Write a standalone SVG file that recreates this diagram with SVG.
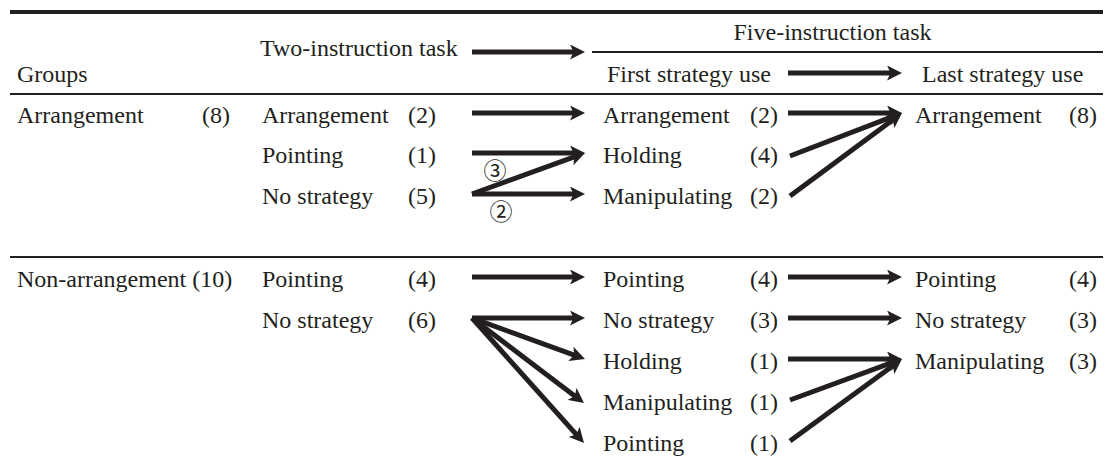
<svg xmlns="http://www.w3.org/2000/svg" width="1105" height="457" viewBox="0 0 1105 457">
<style>
text{font-family:"Liberation Serif",serif;font-size:24px;fill:#231f20}
text.circ{font-family:"Noto Sans CJK JP",sans-serif;font-size:23px;text-anchor:middle}
.rule{stroke:#231f20;stroke-width:2.2}
.con line{stroke:#231f20;stroke-width:5;marker-end:url(#ah)}
</style>
<defs>
<marker id="ah" markerUnits="userSpaceOnUse" viewBox="0 0 15 15" markerWidth="15" markerHeight="15" refX="5" refY="7.5" orient="auto">
<path d="M0,0 L15,7.5 L0,15 L3.5,7.5 z" fill="#231f20"/>
</marker>
</defs>
<rect width="1105" height="457" fill="#fff"/>
<g id="rules">
<line x1="10" y1="12" x2="1103" y2="12" stroke="#231f20" stroke-width="4"/>
<line class="rule" x1="592" y1="52" x2="1103" y2="52"/>
<line class="rule" x1="10" y1="94" x2="1103" y2="94"/>
<line class="rule" x1="10" y1="257" x2="1103" y2="257"/>
</g>
<g id="header">
<text x="260" y="56">Two-instruction task</text>
<text x="832.5" y="40" text-anchor="middle">Five-instruction task</text>
<text x="17" y="82">Groups</text>
<text x="607" y="82">First strategy use</text>
<text x="922" y="82">Last strategy use</text>
</g>
<g id="g-arr"><text x="17" y="123">Arrangement</text><text x="202" y="123">(8)</text></g>
<g id="g-non"><text x="17" y="287">Non-arrangement (10)</text></g>
<g id="t2-arr"><text x="262" y="123">Arrangement</text><text x="408" y="123">(2)</text></g>
<g id="t2-point"><text x="262" y="163">Pointing</text><text x="408" y="163">(1)</text></g>
<g id="t2-none"><text x="262" y="204">No strategy</text><text x="408" y="204">(5)</text></g>
<g id="t2-point2"><text x="262" y="287">Pointing</text><text x="408" y="287">(4)</text></g>
<g id="t2-none2"><text x="262" y="328">No strategy</text><text x="408" y="328">(6)</text></g>
<g id="f-arr"><text x="603" y="123">Arrangement</text><text x="750" y="123">(2)</text></g>
<g id="f-hold"><text x="603" y="163">Holding</text><text x="750" y="163">(4)</text></g>
<g id="f-manip"><text x="603" y="204">Manipulating</text><text x="750" y="204">(2)</text></g>
<g id="f-point2"><text x="603" y="287">Pointing</text><text x="750" y="287">(4)</text></g>
<g id="f-none2"><text x="603" y="328">No strategy</text><text x="750" y="328">(3)</text></g>
<g id="f-hold2"><text x="603" y="369">Holding</text><text x="750" y="369">(1)</text></g>
<g id="f-manip2"><text x="603" y="410">Manipulating</text><text x="750" y="410">(1)</text></g>
<g id="f-point3"><text x="603" y="451">Pointing</text><text x="750" y="451">(1)</text></g>
<g id="l-arr"><text x="915" y="123">Arrangement</text><text x="1069" y="123">(8)</text></g>
<g id="l-point2"><text x="915" y="287">Pointing</text><text x="1069" y="287">(4)</text></g>
<g id="l-none2"><text x="915" y="328">No strategy</text><text x="1069" y="328">(3)</text></g>
<g id="l-manip2"><text x="915" y="369">Manipulating</text><text x="1069" y="369">(3)</text></g>
<g id="connectors" class="con">
<line x1="472" y1="52" x2="575" y2="52"/>
<line x1="788" y1="73" x2="892" y2="73"/>
<line x1="472" y1="113" x2="575" y2="113"/>
<line x1="472" y1="153" x2="575" y2="153"/>
<line x1="472" y1="194" x2="575.6" y2="156.4"/>
<line x1="472" y1="194" x2="575" y2="194"/>
<line x1="788" y1="113" x2="892" y2="113"/>
<line x1="790" y1="156" x2="892.66" y2="116.58"/>
<line x1="790" y1="196" x2="893.97" y2="118.95"/>
<line x1="472" y1="277" x2="575" y2="277"/>
<line x1="472" y1="318" x2="575" y2="318"/>
<line x1="472" y1="318" x2="575.6" y2="355.6"/>
<line x1="472" y1="318" x2="576.03" y2="396.95"/>
<line x1="472" y1="318" x2="577.33" y2="435.55"/>
<line x1="788" y1="277" x2="892" y2="277"/>
<line x1="788" y1="318" x2="892" y2="318"/>
<line x1="788" y1="359" x2="892" y2="359"/>
<line x1="790" y1="400" x2="892.61" y2="362.44"/>
<line x1="790" y1="441" x2="893.93" y2="364.91"/>
</g>
<g id="counts">
<text class="circ" x="495" y="179">③</text>
<text class="circ" x="501" y="220">②</text>
</g>
</svg>
